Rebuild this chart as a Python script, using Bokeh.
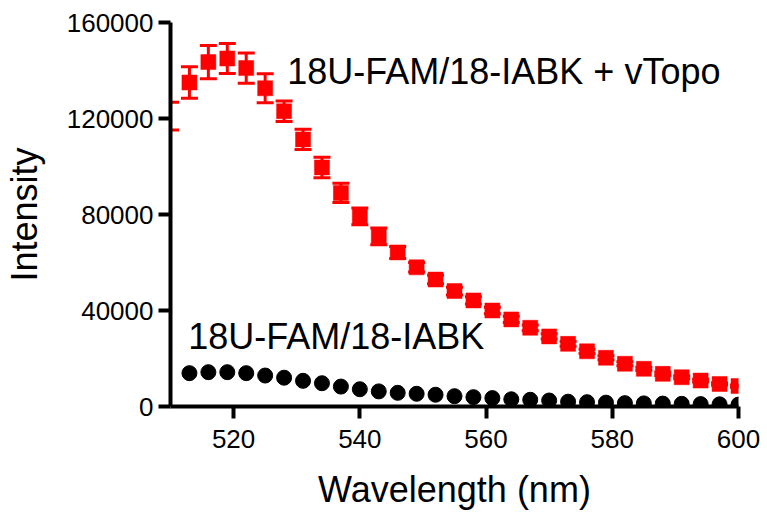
from bokeh.plotting import figure
from bokeh.models import (ColumnDataSource, Range1d, FixedTicker, NumeralTickFormatter,
                          Whisker, TeeHead, Label)
from bokeh.embed import file_html
from bokeh.resources import INLINE

# ---- data ----
wl_red = [510, 513, 516, 519, 522, 525, 528, 531, 534, 537, 540, 543, 546, 549, 552,
          555, 558, 561, 564, 567, 570, 573, 576, 579, 582, 585, 588, 591, 594, 597, 600]
red_mean = [121000, 135000, 143500, 145000, 141000, 132600, 123000, 111300, 99600, 89000,
            79200, 70900, 64200, 58000, 52900, 48100, 44200, 40000, 36300, 32800,
            29200, 26100, 23000, 20300, 17800, 15700, 13600, 12200, 10800, 9400, 8500]
red_err = [5800, 6600, 6900, 6300, 6300, 6000, 4300, 4200, 4300, 4000,
           3500, 3500, 2500, 2000, 1800, 1600, 1500, 1400, 1300, 1200,
           1100, 1000, 900, 800, 800, 700, 700, 600, 600, 500, 500]

wl_black = [513, 516, 519, 522, 525, 528, 531, 534, 537, 540, 543, 546, 549, 552, 555,
            558, 561, 564, 567, 570, 573, 576, 579, 582, 585, 588, 591, 594, 597, 600]
black_mean = [13900, 14300, 14300, 13900, 12900, 12000, 10700, 9700, 8300, 7200,
              6300, 5700, 5300, 4900, 4300, 3900, 3500, 3000, 2800, 2500,
              2000, 1800, 1600, 1400, 1300, 1200, 1100, 1000, 900, 800]

x_ticks = [520, 540, 560, 580, 600]
y_ticks = [0, 40000, 80000, 120000, 160000]
label_red = "18U-FAM/18-IABK + vTopo"
label_black = "18U-FAM/18-IABK"
x_title = "Wavelength (nm)"
y_title = "Intensity"

FONT = "Liberation Sans"

p = figure(width=767, height=512, output_backend="svg", toolbar_location=None,
           x_range=Range1d(510, 600), y_range=Range1d(0, 160000),
           min_border_left=168, min_border_right=29, min_border_top=22, min_border_bottom=106)
p.outline_line_color = "white"
p.outline_line_alpha = 0.01
p.outline_line_width = 1
p.xgrid.grid_line_color = None
p.ygrid.grid_line_color = None

red_src = ColumnDataSource(dict(
    x=wl_red, y=red_mean,
    upper=[m + e for m, e in zip(red_mean, red_err)],
    lower=[m - e for m, e in zip(red_mean, red_err)]))

wh = Whisker(base="x", upper="upper", lower="lower", source=red_src, dimension="height",
             line_color="#ff0000", line_width=3,
             upper_head=TeeHead(size=17, line_color="#ff0000", line_width=3),
             lower_head=TeeHead(size=17, line_color="#ff0000", line_width=3))
p.add_layout(wh)

p.scatter(wl_red[1:], red_mean[1:], marker="square", size=15,
          fill_color="#ff0000", line_color="#ff0000", line_width=0.5)
p.scatter(wl_black, black_mean, marker="circle", size=15,
          fill_color="black", line_color="black")

p.axis.axis_line_width = 4
p.axis.major_tick_line_width = 4
p.axis.major_tick_out = 12
p.axis.major_tick_in = 0
p.axis.minor_tick_line_color = None
p.axis.major_label_text_font = FONT
p.axis.major_label_text_font_size = "26px"
p.axis.major_label_text_color = "#000000"
p.axis.axis_label_text_font = FONT
p.axis.axis_label_text_font_size = "36px"
p.axis.axis_label_text_font_style = "normal"
p.axis.axis_label_text_color = "#000000"

p.xaxis.ticker = FixedTicker(ticks=x_ticks)
p.yaxis.ticker = FixedTicker(ticks=y_ticks)
p.yaxis.formatter = NumeralTickFormatter(format="0")
p.xaxis.axis_label = x_title
p.yaxis.axis_label = y_title
p.xaxis.major_label_standoff = 11
p.yaxis.major_label_standoff = 5
p.xaxis.axis_label_standoff = 18
p.yaxis.axis_label_standoff = 19

p.add_layout(Label(x=528.5, y=139700, text=label_red, text_font=FONT, text_font_size="36px",
                   text_color="black", text_baseline="alphabetic", text_align="left"))
p.add_layout(Label(x=512.8, y=29000, text=label_black, text_font=FONT, text_font_size="36px",
                   text_color="black", text_baseline="alphabetic", text_align="left"))

open("out.html", "w").write(file_html(p, INLINE))
